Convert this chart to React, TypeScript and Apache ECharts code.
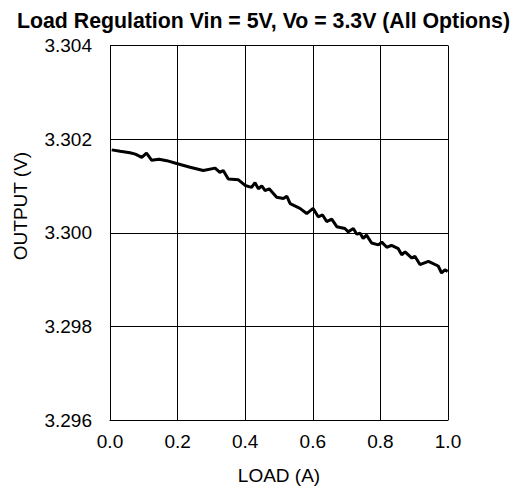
import React, { useEffect, useRef } from "react";
import * as echarts from "echarts";

const TITLE = "Load Regulation Vin = 5V, Vo = 3.3V (All Options)";
const X_NAME = "LOAD (A)";
const Y_NAME = "OUTPUT (V)";

const loadA = [
  0.005, 0.03, 0.059, 0.075, 0.094, 0.108, 0.123, 0.145, 0.168, 0.197, 0.237, 0.276, 0.311, 0.325, 0.335,
  0.35, 0.38, 0.40, 0.419, 0.429, 0.439, 0.449, 0.459, 0.471, 0.493, 0.513, 0.523,
  0.533, 0.562, 0.582, 0.601, 0.616, 0.629, 0.641, 0.656, 0.671, 0.695, 0.705, 0.72,
  0.73, 0.74, 0.749, 0.759, 0.774, 0.794, 0.804, 0.819, 0.833, 0.853, 0.863, 0.873,
  0.893, 0.902, 0.917, 0.942, 0.971, 0.981, 0.991, 0.999,
];
const outputV = [
  3.30177, 3.30174, 3.30171, 3.30168, 3.30161, 3.3017, 3.30155, 3.30157, 3.30154, 3.30148, 3.3014, 3.30133, 3.30138, 3.30129, 3.30133,
  3.30115, 3.30113, 3.30101, 3.30097, 3.30107, 3.30094, 3.301, 3.3009, 3.30094, 3.30076, 3.30073, 3.30078,
  3.30062, 3.30052, 3.30041, 3.30052, 3.30034, 3.30038, 3.30024, 3.30029, 3.30013, 3.30009, 3.30002, 3.30009,
  3.29997, 3.29999, 3.29988, 3.29995, 3.29978, 3.29974, 3.2998, 3.29969, 3.29973, 3.29966, 3.29953, 3.29959,
  3.29946, 3.2995, 3.29932, 3.29939, 3.29929, 3.29914, 3.29921, 3.29917,
];

export default function App() {
  const ref = useRef<HTMLDivElement>(null);
  useEffect(() => {
    if (!ref.current) return;
    const chart = echarts.init(ref.current, null, { renderer: "svg" });
    const font = "'Liberation Sans', Arial, sans-serif";
    chart.setOption({
      animation: false,
      backgroundColor: "#ffffff",
      title: {
        text: TITLE,
        left: "center",
        top: 1.5,
        padding: 0,
        textStyle: { fontFamily: font, fontSize: 21.3, lineHeight: 22, fontWeight: "bold", color: "#000" },
      },
      grid: { left: 102, top: 37.5, width: 338, height: 379, containLabel: false },
      xAxis: {
        type: "value",
        min: 0,
        max: 1,
        interval: 0.2,
        name: X_NAME,
        nameLocation: "middle",
        nameGap: 46,
        nameTextStyle: { fontFamily: font, fontSize: 19, color: "#000" },
        axisLine: { show: true, lineStyle: { color: "#000", width: 1 } },
        axisTick: { show: false },
        axisLabel: {
          fontFamily: font,
          fontSize: 19,
          color: "#000",
          margin: 12,
          formatter: (v: number) => v.toFixed(1),
        },
        splitLine: { show: true, lineStyle: { color: "#000", width: 1 } },
      },
      yAxis: {
        type: "value",
        min: 3.296,
        max: 3.304,
        interval: 0.002,
        axisLine: { show: true, lineStyle: { color: "#000", width: 1 } },
        axisTick: { show: false },
        axisLabel: {
          fontFamily: font,
          fontSize: 19,
          color: "#000",
          margin: 18,
          formatter: (v: number) => v.toFixed(3),
        },
        splitLine: { show: true, lineStyle: { color: "#000", width: 1 } },
      },
      graphic: [
        {
          type: "text",
          x: 12.5,
          y: 198,
          rotation: Math.PI / 2,
          style: {
            text: Y_NAME,
            fontFamily: font,
            fontSize: 19,
            fill: "#000",
            textAlign: "center",
            textVerticalAlign: "middle",
          },
        },
      ],
      series: [
        {
          type: "line",
          data: loadA.map((x, i) => [x, outputV[i]]),
          showSymbol: false,
          lineStyle: { color: "#000", width: 3 },
        },
      ],
    });
    return () => chart.dispose();
  }, []);
  return <div ref={ref} style={{ width: 511, height: 482 }} />;
}
